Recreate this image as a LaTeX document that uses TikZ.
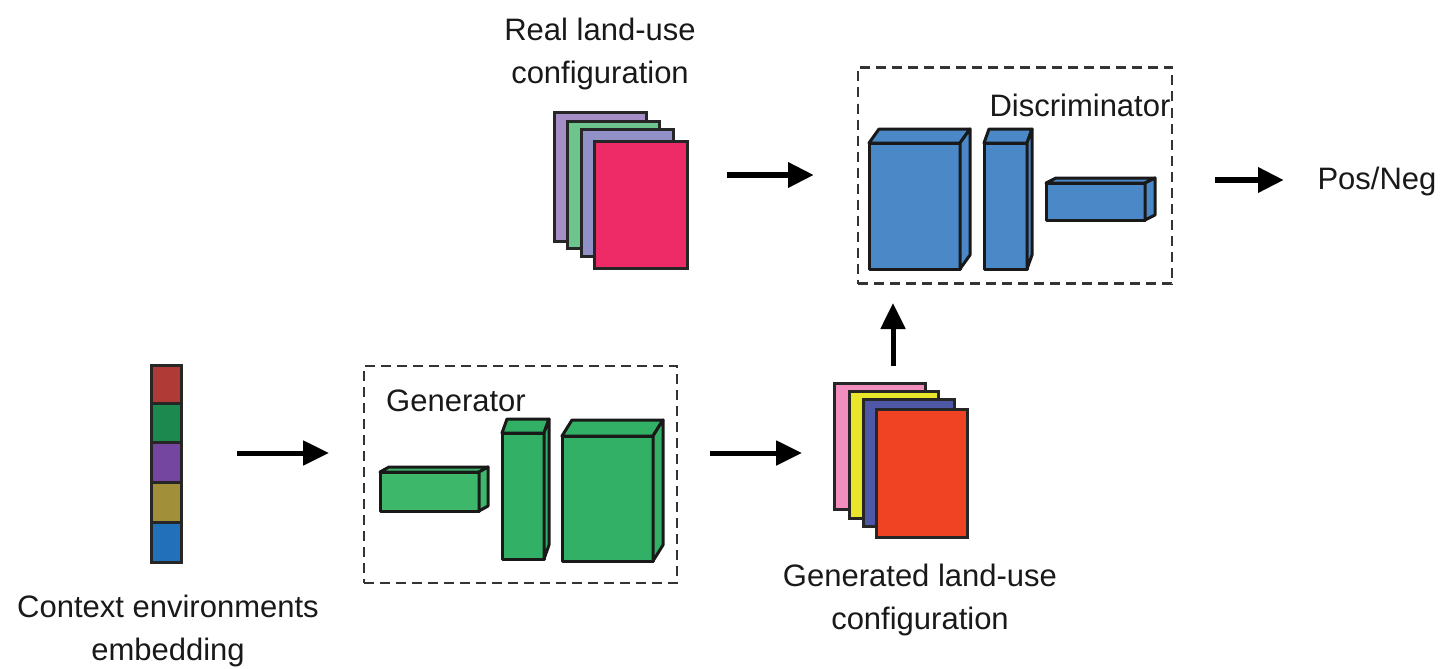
\documentclass[tikz,border=0pt]{standalone}
\usepackage{fontspec}
\setmainfont{Liberation Sans}
\usetikzlibrary{arrows.meta}

\definecolor{embA}{HTML}{B03A36}
\definecolor{embB}{HTML}{1C8A4E}
\definecolor{embC}{HTML}{7446A0}
\definecolor{embD}{HTML}{A18F3A}
\definecolor{embE}{HTML}{2370BA}
\definecolor{genA}{HTML}{3DB86A}
\definecolor{genB}{HTML}{32B066}
\definecolor{disc}{HTML}{4A88C7}
\definecolor{rpA}{HTML}{A58DC6}
\definecolor{rpB}{HTML}{6DC48C}
\definecolor{rpC}{HTML}{9191C8}
\definecolor{rpD}{HTML}{EE2A67}
\definecolor{gpA}{HTML}{F28DBE}
\definecolor{gpB}{HTML}{E9E52A}
\definecolor{gpC}{HTML}{4E58A6}
\definecolor{gpD}{HTML}{EF4323}

\tikzset{
  cube/.style={draw=black!90, line width=3, line join=round},
  sheet/.style={draw=black!85, line width=3},
  flow/.style={line width=5, -{Triangle[length=26,width=24]}},
  boldflow/.style={flow, line width=6.5},
  frame/.style={draw=black!80, line width=2.2, dash pattern=on 10 off 6},
  lbl/.style={font=\fontsize{31}{43}\selectfont, align=center, text=black!90, inner sep=0}
}

% a block: front face (x1,y1)-(x2,y2), depth offset (dx,dy), fill colour
\newcommand\block[7]{%
  \filldraw[cube, fill=#7] (#1,#2) rectangle (#3,#4);
  \filldraw[cube, fill=#7] (#1,#2) -- ++(#5,#6) -- ({#3+#5},{#2+#6}) -- (#3,#2) -- cycle;
  \filldraw[cube, fill=#7] (#3,#2) -- ({#3+#5},{#2+#6}) -- ({#3+#5},{#4+#6}) -- (#3,#4) -- cycle;
}

\begin{document}
\begin{tikzpicture}[x=1pt,y=-1pt]
  \useasboundingbox (0,0) rectangle (1444,669);

  % context embedding vector
  \filldraw[sheet, fill=embA] (151,365) rectangle (181,403);
  \filldraw[sheet, fill=embB] (151,403) rectangle (181,442);
  \filldraw[sheet, fill=embC] (151,442) rectangle (181,482);
  \filldraw[sheet, fill=embD] (151,482) rectangle (181,522);
  \filldraw[sheet, fill=embE] (151,522) rectangle (181,562);
  \node[lbl] (ctx) at (168,631) {Context environments\\embedding};

  % generator
  \node[frame, minimum width=313, minimum height=217, inner sep=0] (gen) at (520.5,474.5) {};
  \node[lbl] (genlbl) at (456,401) {Generator};
  \block{380}{472}{479}{511}{9}{-5}{genA}
  \block{502}{433}{544}{559}{5}{-14}{genB}
  \block{562}{436}{653}{561}{10}{-16}{genB}

  % generated configuration stack
  \filldraw[sheet, fill=gpA] (834,383) rectangle (925,509);
  \filldraw[sheet, fill=gpB] (849,391) rectangle (938,518);
  \filldraw[sheet, fill=gpC] (863,399) rectangle (954,526);
  \filldraw[sheet, fill=gpD] (876,409) rectangle (967,537);
  \node[lbl] (genconf) at (920,600) {Generated land-use\\configuration};

  % real configuration stack
  \filldraw[sheet, fill=rpA] (554,112) rectangle (646,241);
  \filldraw[sheet, fill=rpB] (567,121) rectangle (659,248);
  \filldraw[sheet, fill=rpC] (581,129) rectangle (673,256);
  \filldraw[sheet, fill=rpD] (594,141) rectangle (687,268);
  \node[lbl] (realconf) at (600,54) {Real land-use\\configuration};

  % discriminator
  \node[frame, minimum width=314, minimum height=216, inner sep=0] (dis) at (1015,175.5) {};
  \node[lbl] (dislbl) at (1080,105) {Discriminator};
  \block{869}{143}{960}{269}{10}{-14}{disc}
  \block{984}{143}{1027}{269}{5}{-14}{disc}
  \block{1046}{183}{1145}{220}{10}{-5}{disc}

  \node[lbl] (out) at (1377,181) {Pos/Neg};

  % data flow
  \coordinate (a1) at (237,453);  \coordinate (b1) at (329,453);
  \coordinate (a2) at (710,453);  \coordinate (b2) at (802,453);
  \coordinate (a3) at (893,366);  \coordinate (b3) at (893,303);
  \coordinate (a4) at (727,175);  \coordinate (b4) at (814,175);
  \coordinate (a5) at (1215,180); \coordinate (b5) at (1284,180);
  \draw[flow] (a1) -- (b1);
  \draw[flow] (a2) -- (b2);
  \draw[flow] (a3) -- (b3);
  \draw[boldflow] (a4) -- (b4);
  \draw[boldflow] (a5) -- (b5);
\end{tikzpicture}
\end{document}
